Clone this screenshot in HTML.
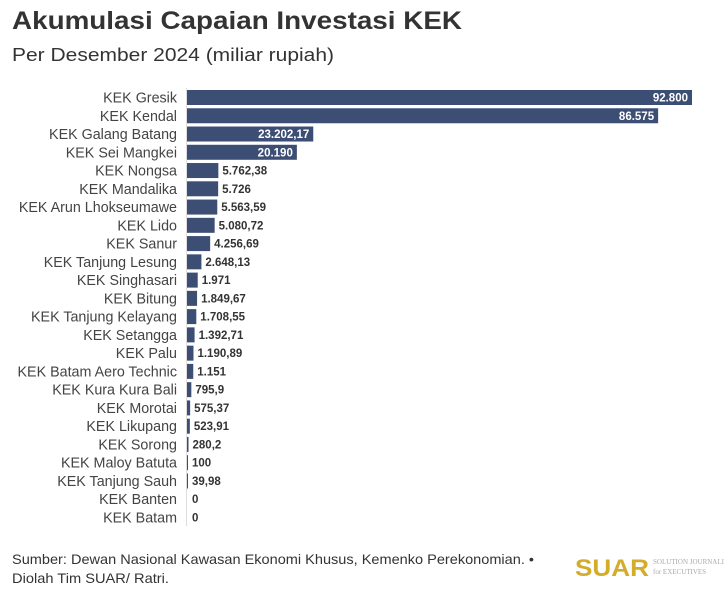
<!DOCTYPE html><html><head><meta charset="utf-8"><style>
body{margin:0;background:#fff;width:724px;height:595px;overflow:hidden;font-family:"Liberation Sans",sans-serif}
</style></head><body>
<svg width="724" height="595" xmlns="http://www.w3.org/2000/svg" font-family="Liberation Sans, sans-serif">
<text x="12" y="29" font-size="25" font-weight="bold" fill="#333" textLength="450" lengthAdjust="spacingAndGlyphs">Akumulasi Capaian Investasi KEK</text>
<text x="12" y="61" font-size="18" fill="#333" textLength="322" lengthAdjust="spacingAndGlyphs">Per Desember 2024 (miliar rupiah)</text>
<line x1="186.5" y1="88" x2="186.5" y2="526" stroke="#ddd" stroke-width="1"/>
<g id="bars"></g>
<text x="12" y="564" font-size="14" fill="#333" textLength="522" lengthAdjust="spacingAndGlyphs">Sumber: Dewan Nasional Kawasan Ekonomi Khusus, Kemenko Perekonomian. •</text>
<text x="12" y="583" font-size="14" fill="#333" textLength="157" lengthAdjust="spacingAndGlyphs">Diolah Tim SUAR/ Ratri.</text>
<text x="575" y="576" font-size="24" font-weight="bold" fill="#d4ac2b" textLength="74" lengthAdjust="spacingAndGlyphs">SUAR</text>
<text x="653" y="564" font-size="7" fill="#aaa" font-family="Liberation Serif, serif">SOLUTION JOURNALISM</text>
<text x="653" y="574" font-size="7" fill="#aaa" font-family="Liberation Serif, serif">for EXECUTIVES</text>
</svg>
<script>
var d=[["KEK Gresik",92800,"92.800"],["KEK Kendal",86575,"86.575"],["KEK Galang Batang",23202.17,"23.202,17"],["KEK Sei Mangkei",20190,"20.190"],["KEK Nongsa",5762.38,"5.762,38"],["KEK Mandalika",5726,"5.726"],["KEK Arun Lhokseumawe",5563.59,"5.563,59"],["KEK Lido",5080.72,"5.080,72"],["KEK Sanur",4256.69,"4.256,69"],["KEK Tanjung Lesung",2648.13,"2.648,13"],["KEK Singhasari",1971,"1.971"],["KEK Bitung",1849.67,"1.849,67"],["KEK Tanjung Kelayang",1708.55,"1.708,55"],["KEK Setangga",1392.71,"1.392,71"],["KEK Palu",1190.89,"1.190,89"],["KEK Batam Aero Technic",1151,"1.151"],["KEK Kura Kura Bali",795.9,"795,9"],["KEK Morotai",575.37,"575,37"],["KEK Likupang",523.91,"523,91"],["KEK Sorong",280.2,"280,2"],["KEK Maloy Batuta",100,"100"],["KEK Tanjung Sauh",39.98,"39,98"],["KEK Banten",0,"0"],["KEK Batam",0,"0"]];
var g=document.getElementById("bars"),s="",x0=187,k=505/92800;
d.forEach(function(r,i){var c=97.5+i*18.26,w=r[1]*k;
s+='<text x="177" y="'+(c+5)+'" font-size="14.3" fill="#444" text-anchor="end">'+r[0]+'</text>';
if(w>0)s+='<rect x="'+x0+'" y="'+(c-7.5)+'" width="'+Math.max(w,1)+'" height="15" fill="#3d4e74"/>';
if(w>60)s+='<text x="'+(x0+w-4)+'" y="'+(c+4)+'" font-size="11.5" font-weight="bold" fill="#fff" text-anchor="end">'+r[2]+'</text>';
else s+='<text x="'+(x0+Math.max(w,1)+4)+'" y="'+(c+4)+'" font-size="11.5" font-weight="bold" fill="#333">'+r[2]+'</text>';});
g.innerHTML=s;
</script>
</body></html>
